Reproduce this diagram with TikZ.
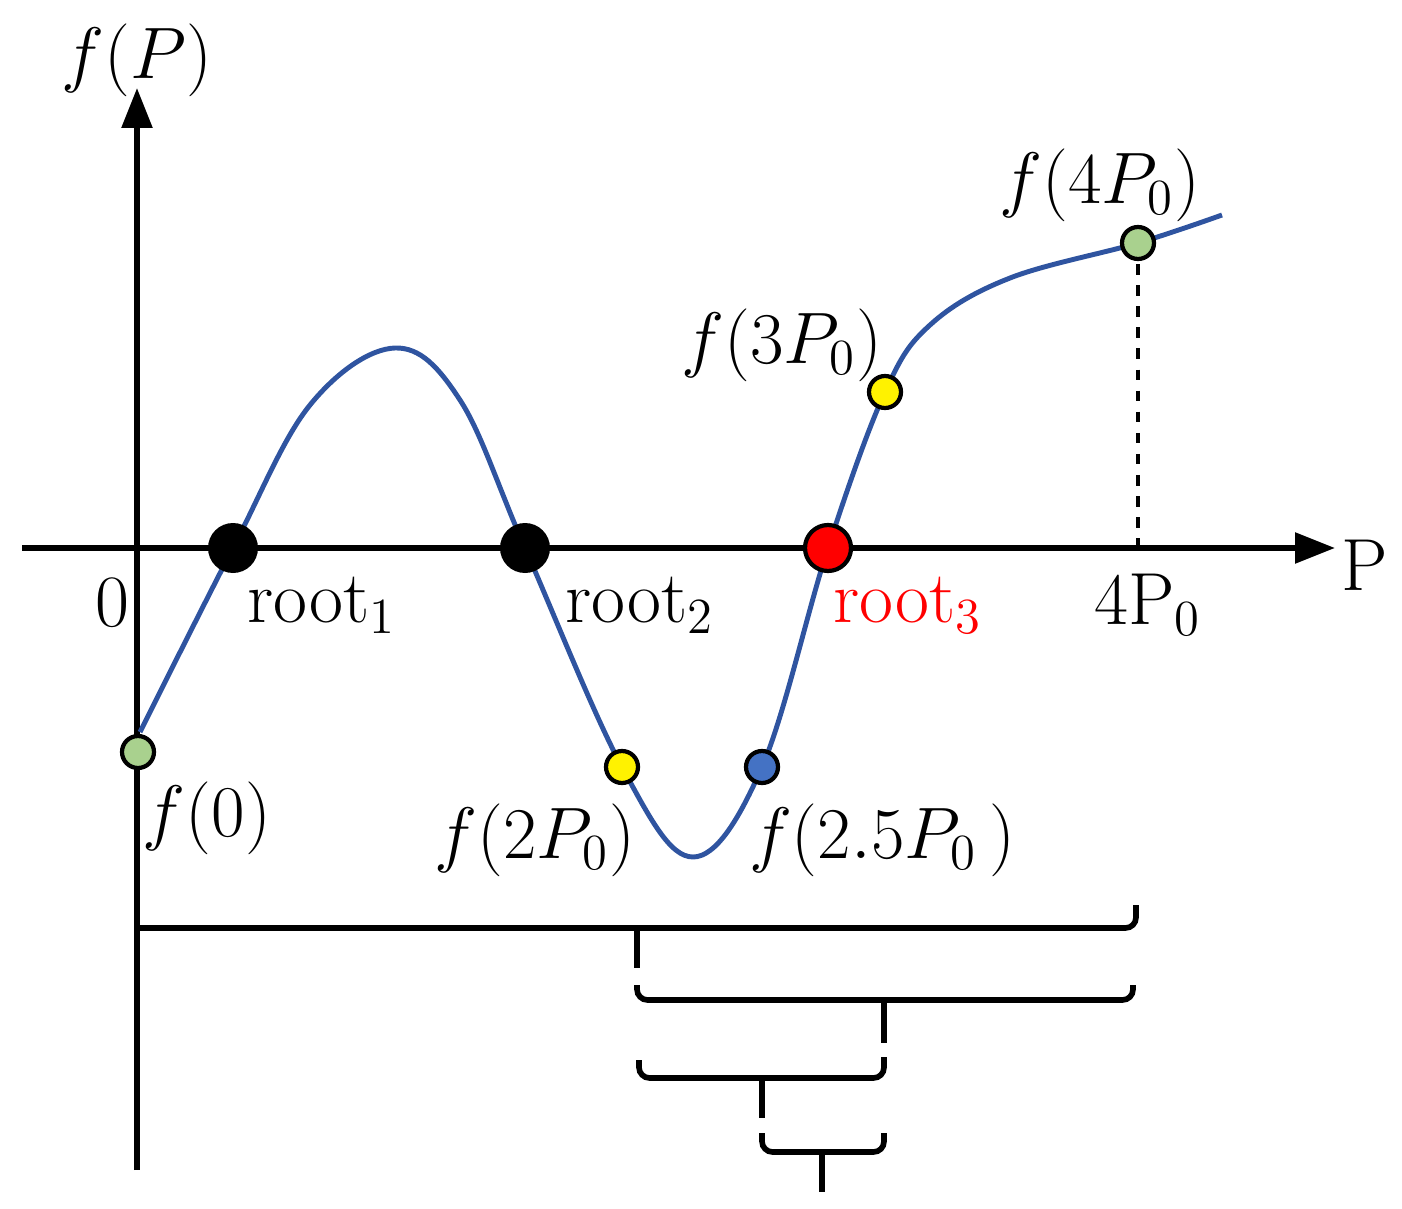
\documentclass[tikz,border=0pt]{standalone}
\usetikzlibrary{arrows.meta}
\begin{document}
\begin{tikzpicture}[x=0.1mm,y=-0.1mm,
  lab/.style={font=\fontsize{21}{24}\selectfont,inner sep=0pt},
  dot/.style={circle,draw=black,line width=1.2pt,minimum size=3.2mm,inner sep=0pt},
  big/.style={circle,fill=black,minimum size=5mm,inner sep=0pt},
  br/.style={line width=1.6pt,rounded corners=3pt}]
\useasboundingbox (0,0) rectangle (1402,1209);
\draw[line width=1.6pt,-{Triangle[length=4mm,width=3mm]}] (137,1170) -- (137,88);
\draw[line width=1.6pt,-{Triangle[length=4mm,width=3mm]}] (22,548) -- (1335,548);
\draw[line width=1.4pt,dashed] (1138,243) -- (1138,548);
\draw[color={rgb,255:red,47;green,84;blue,160},line width=1.4pt] plot[smooth,tension=0.6] coordinates
 {(140,732) (233,548) (310,405) (395,348) (460,400) (525,548) (622,767) (693,857) (762,767) (828,548) (885,392) (930,325) (1010,278) (1138,243) (1222,215)};
\node[big] (r1) at (233,548) {};
\node[big] (r2) at (525,548) {};
\node[circle,fill=red,draw=black,line width=1.2pt,minimum size=4.6mm,inner sep=0pt] (r3) at (828,548) {};
\node[dot,fill={rgb,255:red,169;green,209;blue,142}] (g0) at (138,752) {};
\node[dot,fill={rgb,255:red,169;green,209;blue,142}] (g4) at (1138,243) {};
\node[dot,fill=yellow] (y2) at (622,767) {};
\node[dot,fill=yellow] (y3) at (885,392) {};
\node[dot,fill={rgb,255:red,68;green,114;blue,196}] (b) at (762,767) {};
\node[lab] (fp) at (137,60) {$f(P)$};
\node[lab] (P) at (1365,565) {P};
\node[lab] (z) at (112,603) {0};
\node[lab] (t1) at (322,605) {root$_1$};
\node[lab] (t2) at (640,605) {root$_2$};
\node[lab,red] (t3) at (908,605) {root$_3$};
\node[lab] (t4) at (1148,605) {4P$_0$};
\node[lab] (l4) at (1100,185) {$f(4P_0)$};
\node[lab] (l3) at (782,345) {$f(3P_0)$};
\node[lab] (l0) at (207,818) {$f(0)$};
\node[lab] (l2) at (535,840) {$f(2P_0)$};
\node[lab] (l25) at (882,840) {$f(2.5P_0\,)$};
% brackets
\draw[br] (137,928) -- (1136,928) -- (1136,905);
\draw[line width=1.6pt] (637,928) -- (637,968);
\draw[br] (637,985) -- (637,1000) -- (1133,1000) -- (1133,985);
\draw[line width=1.6pt] (884,1000) -- (884,1043);
\draw[br] (639,1060) -- (639,1078) -- (884,1078) -- (884,1057);
\draw[line width=1.6pt] (762,1078) -- (762,1118);
\draw[br] (762,1133) -- (762,1152) -- (884,1152) -- (884,1133);
\draw[line width=1.6pt] (822,1152) -- (822,1192);
\end{tikzpicture}
\end{document}
